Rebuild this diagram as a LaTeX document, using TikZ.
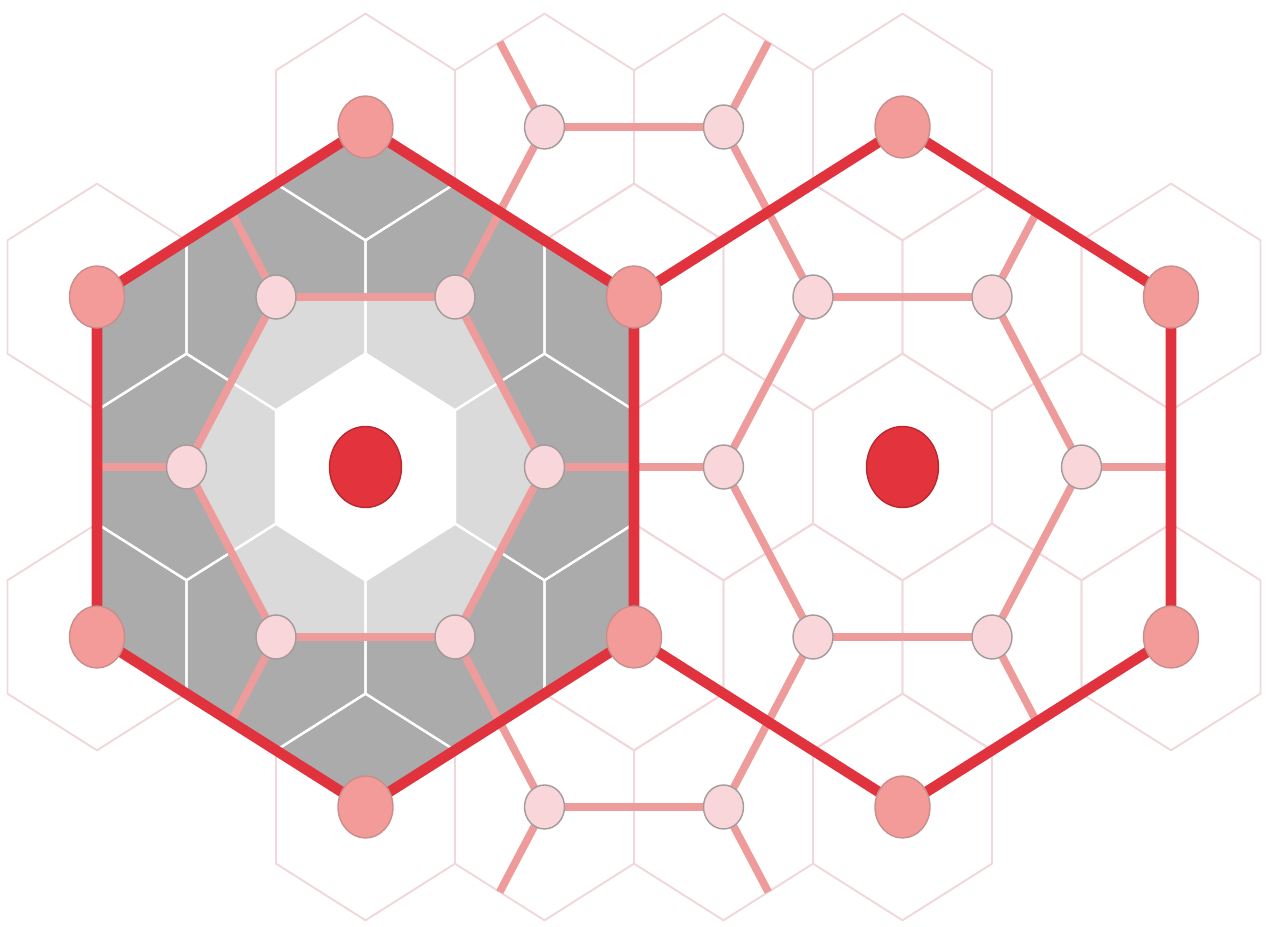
\documentclass[tikz,border=0pt]{standalone}
\usepackage{tikz}
\usetikzlibrary{shapes.geometric}
\definecolor{hexgrid}{HTML}{F1D7DA}
\definecolor{linkpink}{HTML}{EE9C9B}
\definecolor{borderred}{HTML}{E0333D}
\definecolor{cornerpink}{HTML}{F29B98}
\definecolor{cornerrim}{HTML}{C98E8C}
\definecolor{ringpink}{HTML}{F8D6D9}
\definecolor{ringrim}{HTML}{A39A9B}
\definecolor{centerred}{HTML}{E3333C}
\definecolor{centerrim}{HTML}{B8282F}
\definecolor{darkshade}{HTML}{ABABAB}
\definecolor{lightshade}{HTML}{DADADA}

\begin{document}
\begin{tikzpicture}[x=1.79cm, y=1.1333cm,
    cell/.style={draw=hexgrid, line width=1.1pt, line join=round},
    cellwhite/.style={draw=white, line width=1.3pt, line join=round},
    link/.style={draw=linkpink, line width=4.4pt, line join=round},
    border/.style={draw=borderred, line width=6pt, line join=round},
    cornerdot/.style={ellipse, draw=cornerrim, line width=0.8pt, fill=cornerpink, minimum width=1.1cm, minimum height=1.24cm, inner sep=0pt},
    ringdot/.style={ellipse, draw=ringrim, line width=0.8pt, fill=ringpink, minimum width=0.8cm, minimum height=0.88cm, inner sep=0pt},
    centerdot/.style={ellipse, draw=centerrim, line width=0.8pt, fill=centerred, minimum width=1.44cm, minimum height=1.62cm, inner sep=0pt}]

    \useasboundingbox (-7.31cm,-9.2cm) rectangle (18.11cm,9.34cm);

    % background cells
    \foreach \cx in {0,2,4,6} {
        \draw[cell] (\cx,6) +(0,2) -- +(1,1) -- +(1,-1) -- +(0,-2) -- +(-1,-1) -- +(-1,1) -- cycle;
        \draw[cell] (\cx,-6) +(0,2) -- +(1,1) -- +(1,-1) -- +(0,-2) -- +(-1,-1) -- +(-1,1) -- cycle;
    }
    \foreach \cx in {-3,-1,...,9} {
        \draw[cell] (\cx,3) +(0,2) -- +(1,1) -- +(1,-1) -- +(0,-2) -- +(-1,-1) -- +(-1,1) -- cycle;
        \draw[cell] (\cx,-3) +(0,2) -- +(1,1) -- +(1,-1) -- +(0,-2) -- +(-1,-1) -- +(-1,1) -- cycle;
    }
    \foreach \cx in {-2,0,...,8}
        \draw[cell] (\cx,0) +(0,2) -- +(1,1) -- +(1,-1) -- +(0,-2) -- +(-1,-1) -- +(-1,1) -- cycle;

    % corners of the two big cells
    \coordinate (ltop) at (0,6);
    \coordinate (lupleft) at (-3,3);
    \coordinate (llowleft) at (-3,-3);
    \coordinate (lbot) at (0,-6);
    \coordinate (mlow) at (3,-3);
    \coordinate (mup) at (3,3);
    \coordinate (rtop) at (6,6);
    \coordinate (rupright) at (9,3);
    \coordinate (rlowright) at (9,-3);
    \coordinate (rbot) at (6,-6);

    % inner rings
    \coordinate (l1) at (-1,3);
    \coordinate (l2) at (1,3);
    \coordinate (l3) at (2,0);
    \coordinate (l4) at (1,-3);
    \coordinate (l5) at (-1,-3);
    \coordinate (l6) at (-2,0);
    \coordinate (r1) at (5,3);
    \coordinate (r2) at (7,3);
    \coordinate (r3) at (8,0);
    \coordinate (r4) at (7,-3);
    \coordinate (r5) at (5,-3);
    \coordinate (r6) at (4,0);
    \coordinate (t1) at (2,6);
    \coordinate (t2) at (4,6);
    \coordinate (b1) at (2,-6);
    \coordinate (b2) at (4,-6);
    \coordinate (lc) at (0,0);
    \coordinate (rc) at (6,0);

    % free ends of the links
    \coordinate (l1end) at (-1.5,4.5);
    \coordinate (l6end) at (-3,0);
    \coordinate (l5end) at (-1.5,-4.5);
    \coordinate (r2end) at (7.5,4.5);
    \coordinate (r3end) at (9,0);
    \coordinate (r4end) at (7.5,-4.5);
    \coordinate (t1end) at (1.5,7.5);
    \coordinate (t2end) at (4.5,7.5);
    \coordinate (b1end) at (1.5,-7.5);
    \coordinate (b2end) at (4.5,-7.5);

    % shading of the left cell
    \fill[darkshade] (ltop) -- (lupleft) -- (llowleft) -- (lbot) -- (mlow) -- (mup) -- cycle;
    \fill[lightshade] (l1) -- (l2) -- (l3) -- (l4) -- (l5) -- (l6) -- cycle;
    \fill[white] (0,2) -- (1,1) -- (1,-1) -- (0,-2) -- (-1,-1) -- (-1,1) -- cycle;
    \begin{scope}
        \clip (ltop) -- (lupleft) -- (llowleft) -- (lbot) -- (mlow) -- (mup) -- cycle;
        \foreach \cx in {0,2} {
            \draw[cellwhite] (\cx,6) +(0,2) -- +(1,1) -- +(1,-1) -- +(0,-2) -- +(-1,-1) -- +(-1,1) -- cycle;
            \draw[cellwhite] (\cx,-6) +(0,2) -- +(1,1) -- +(1,-1) -- +(0,-2) -- +(-1,-1) -- +(-1,1) -- cycle;
        }
        \foreach \cx in {-3,-1,1,3} {
            \draw[cellwhite] (\cx,3) +(0,2) -- +(1,1) -- +(1,-1) -- +(0,-2) -- +(-1,-1) -- +(-1,1) -- cycle;
            \draw[cellwhite] (\cx,-3) +(0,2) -- +(1,1) -- +(1,-1) -- +(0,-2) -- +(-1,-1) -- +(-1,1) -- cycle;
        }
        \foreach \cx in {-2,0,2}
            \draw[cellwhite] (\cx,0) +(0,2) -- +(1,1) -- +(1,-1) -- +(0,-2) -- +(-1,-1) -- +(-1,1) -- cycle;
    \end{scope}

    % links
    \draw[link] (l1) -- (l2) -- (l3) -- (l4) -- (l5) -- (l6) -- cycle;
    \draw[link] (r1) -- (r2) -- (r3) -- (r4) -- (r5) -- (r6) -- cycle;
    \draw[link] (l3) -- (r6);
    \draw[link] (l2) -- (t1) -- (t2) -- (r1);
    \draw[link] (l4) -- (b1) -- (b2) -- (r5);
    \draw[link] (l1) -- (l1end);
    \draw[link] (l6) -- (l6end);
    \draw[link] (l5) -- (l5end);
    \draw[link] (r2) -- (r2end);
    \draw[link] (r3) -- (r3end);
    \draw[link] (r4) -- (r4end);
    \draw[link] (t1) -- (t1end);
    \draw[link] (t2) -- (t2end);
    \draw[link] (b1) -- (b1end);
    \draw[link] (b2) -- (b2end);

    % big cells
    \draw[border] (ltop) -- (lupleft) -- (llowleft) -- (lbot) -- (mlow) -- (mup) -- cycle;
    \draw[border] (mup) -- (rtop) -- (rupright) -- (rlowright) -- (rbot) -- (mlow);

    % dots
    \foreach \p in {ltop,lupleft,llowleft,lbot,mlow,mup,rtop,rupright,rlowright,rbot}
        \node[cornerdot] (\p-dot) at (\p) {};
    \foreach \p in {l1,l2,l3,l4,l5,l6,r1,r2,r3,r4,r5,r6,t1,t2,b1,b2}
        \node[ringdot] (\p-dot) at (\p) {};
    \node[centerdot] (lc-dot) at (lc) {};
    \node[centerdot] (rc-dot) at (rc) {};

\end{tikzpicture}
\end{document}
